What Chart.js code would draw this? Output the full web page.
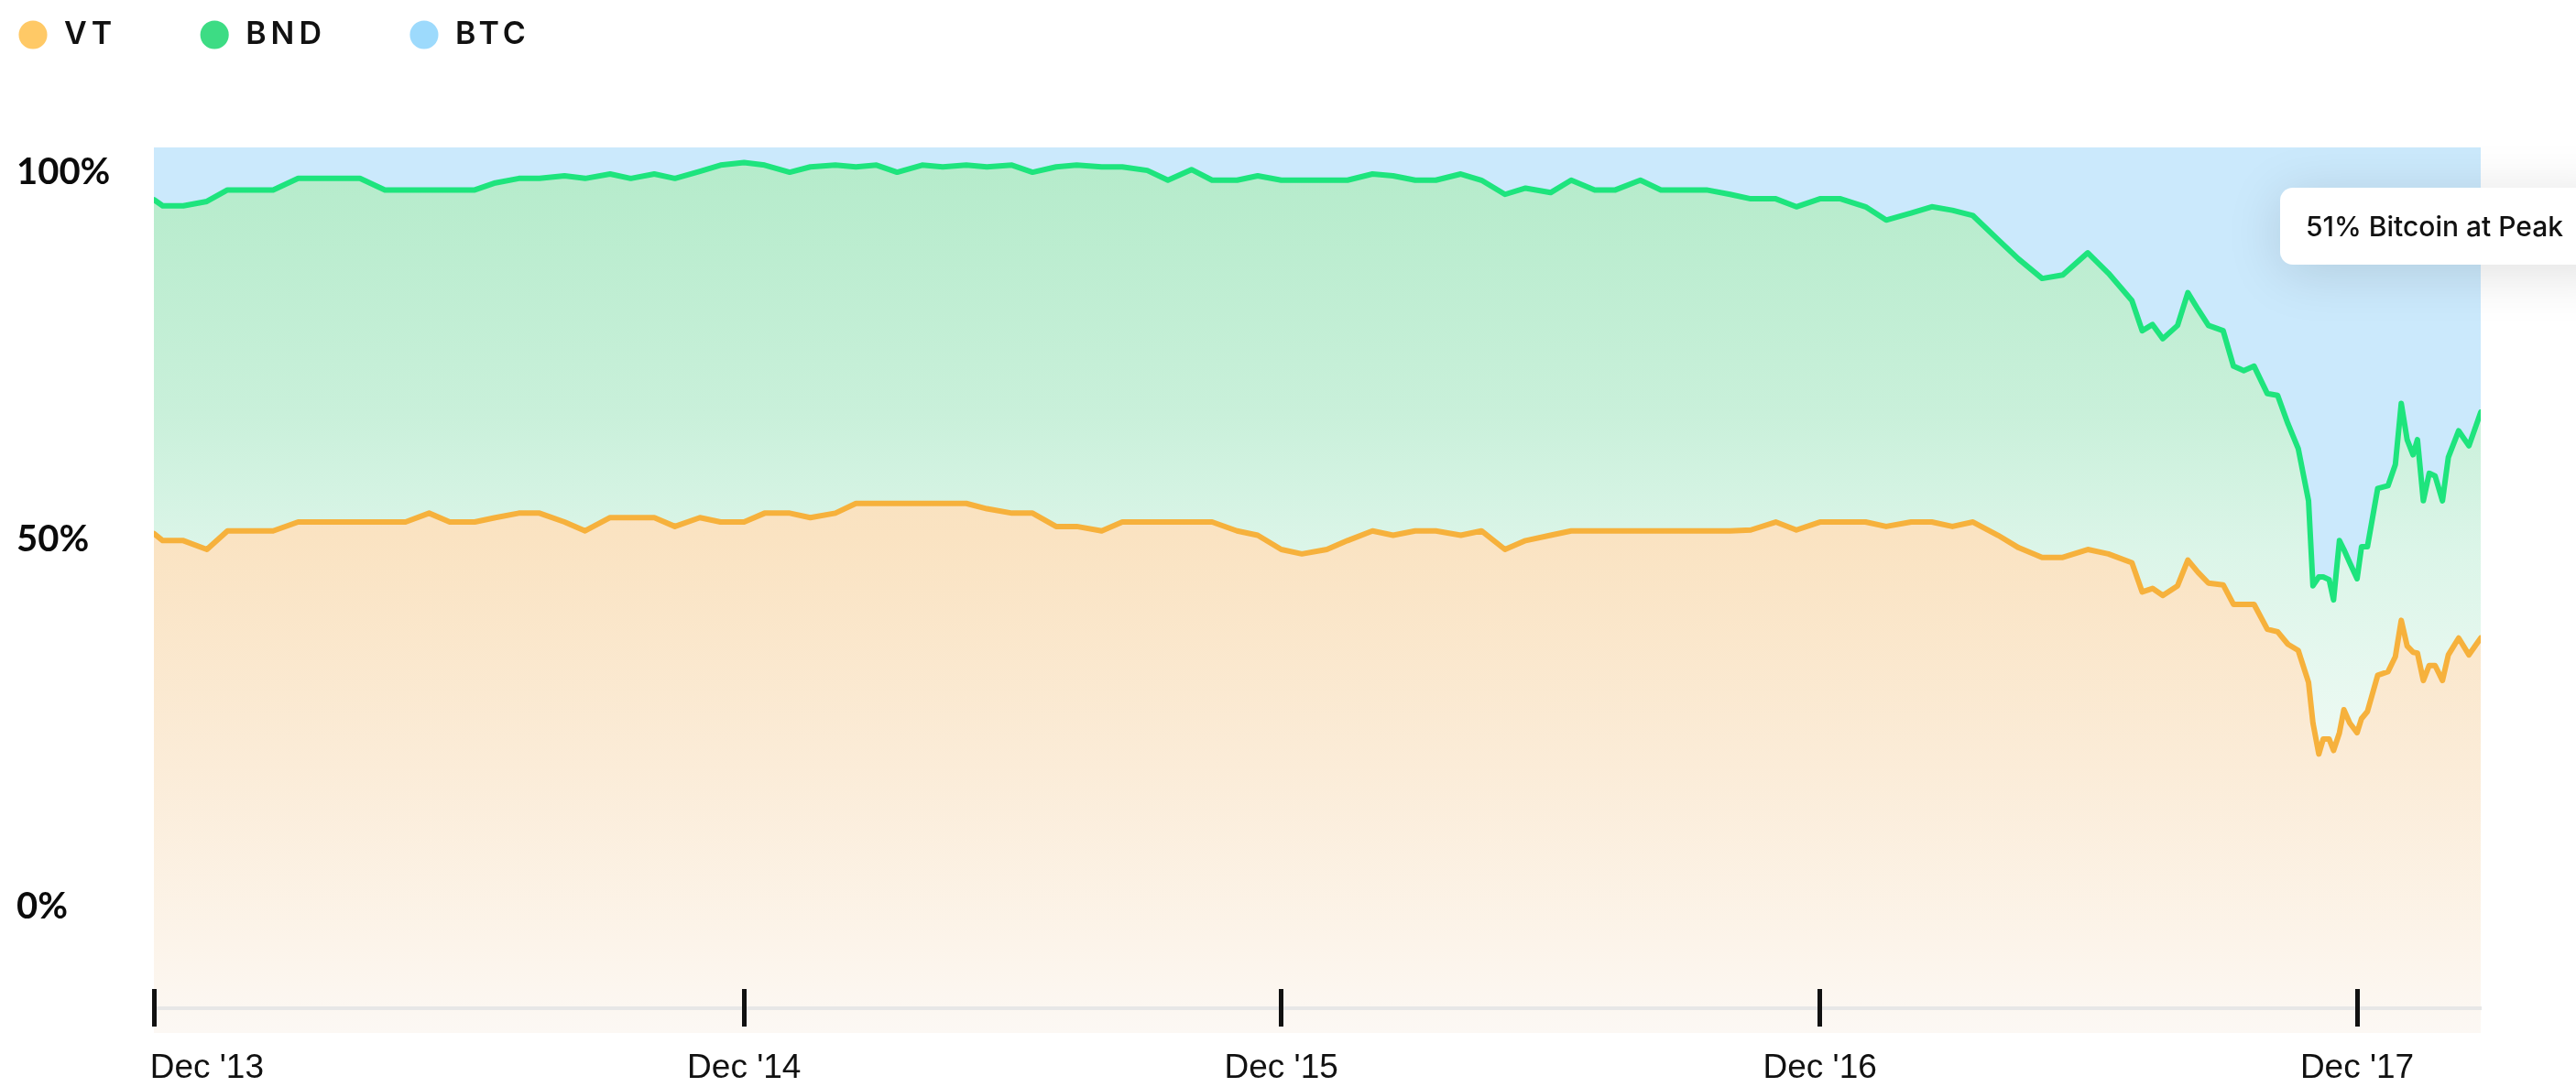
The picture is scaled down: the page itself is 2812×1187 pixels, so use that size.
<!DOCTYPE html>
<html>
<head>
<meta charset="utf-8">
<script src="https://cdn.jsdelivr.net/npm/chart.js@4.4.1/dist/chart.umd.min.js"></script>
<style>
  html, body { margin: 0; padding: 0; background: #fff; overflow: hidden; }
  #wrap { position: relative; width: 2812px; height: 1187px; overflow: hidden; }
  #peakNote {
    position: absolute; left: 2489px; top: 205px; width: 380px; height: 84px;
    box-sizing: border-box; padding-left: 28px;
    display: flex; align-items: center;
    background: #fff; border-radius: 14px;
    box-shadow: 0 8px 60px rgba(0, 0, 0, 0.13);
    font: 500 30px Inter, sans-serif; color: #111;
  }
</style>
</head>
<body>
<div id="wrap">
  <canvas id="allocChart" width="2812" height="1187"></canvas>
  <div id="peakNote">51% Bitcoin at Peak</div>
</div>
<script>
// 各資產佔比 (%)，依日期排列
const dates = [
  '2013-10-26','2013-11-01','2013-11-15','2013-12-01','2013-12-15',
  '2014-01-01','2014-01-15','2014-02-01','2014-02-15','2014-03-01','2014-03-15','2014-04-01','2014-04-15',
  '2014-05-01','2014-05-15','2014-06-01','2014-06-15','2014-07-01','2014-07-15','2014-08-01','2014-08-15',
  '2014-09-01','2014-09-15','2014-10-01','2014-10-15','2014-11-01','2014-11-15','2014-12-01','2014-12-15',
  '2015-01-01','2015-01-15','2015-02-01','2015-02-15','2015-03-01','2015-03-15','2015-04-01','2015-04-15',
  '2015-05-01','2015-05-15','2015-06-01','2015-06-15','2015-07-01','2015-07-15','2015-08-01','2015-08-15',
  '2015-09-01','2015-09-15','2015-10-01','2015-10-15','2015-11-01','2015-11-15','2015-12-01','2015-12-15',
  '2016-01-01','2016-01-15','2016-02-01','2016-02-15','2016-03-01','2016-03-15','2016-04-01','2016-04-15',
  '2016-05-01','2016-05-15','2016-06-01','2016-06-15','2016-07-01','2016-07-15','2016-08-01','2016-08-15',
  '2016-09-01','2016-09-15','2016-10-01','2016-10-15','2016-11-01','2016-11-15','2016-12-01','2016-12-15',
  '2017-01-01','2017-01-15','2017-02-01','2017-02-15','2017-03-01','2017-03-15','2017-04-01','2017-04-15',
  '2017-05-01','2017-05-15','2017-06-01','2017-06-15','2017-07-01','2017-07-08','2017-07-15','2017-07-22',
  '2017-08-01','2017-08-08','2017-08-15','2017-08-22','2017-09-01','2017-09-08','2017-09-15','2017-09-22',
  '2017-10-01','2017-10-08','2017-10-15','2017-10-22','2017-10-29','2017-11-01','2017-11-05','2017-11-08',
  '2017-11-12','2017-11-15','2017-11-19','2017-11-22','2017-11-26','2017-12-01','2017-12-04','2017-12-08',
  '2017-12-15','2017-12-22','2017-12-27','2017-12-31','2018-01-04','2018-01-08','2018-01-11','2018-01-15',
  '2018-01-19','2018-01-23','2018-01-28','2018-02-01','2018-02-08','2018-02-15','2018-02-23'
];

const vtShare = [
  56.4, 55.6, 55.6, 54.6, 56.7,
  56.7, 56.7, 57.7, 57.7, 57.7, 57.7, 57.7, 57.7,
  58.7, 57.7, 57.7, 58.2, 58.7, 58.7, 57.7, 56.7,
  58.2, 58.2, 58.2, 57.2, 58.2, 57.7, 57.7, 58.7,
  58.7, 58.2, 58.7, 59.8, 59.8, 59.8, 59.8, 59.8,
  59.8, 59.2, 58.7, 58.7, 57.2, 57.2, 56.7, 57.7,
  57.7, 57.7, 57.7, 57.7, 56.7, 56.2, 54.6, 54.1,
  54.6, 55.6, 56.7, 56.2, 56.7, 56.7, 56.2, 56.7,
  54.6, 55.6, 56.2, 56.7, 56.7, 56.7, 56.7, 56.7,
  56.7, 56.7, 56.7, 56.8, 57.7, 56.8, 57.7, 57.7,
  57.7, 57.2, 57.7, 57.7, 57.2, 57.7, 56.2, 54.8,
  53.7, 53.7, 54.6, 54.1, 53.1, 49.8, 50.2, 49.4,
  50.5, 53.4, 52.0, 50.8, 50.6, 48.4, 48.4, 48.4,
  45.6, 45.3, 43.9, 43.2, 39.6, 35.0, 31.5, 33.2,
  33.2, 31.9, 33.9, 36.5, 35.0, 33.9, 35.5, 36.3,
  40.4, 40.8, 42.5, 46.6, 43.7, 43.0, 42.9, 39.8,
  41.5, 41.5, 39.8, 42.7, 44.6, 42.7, 44.6
];

const bndShare = [
  37.7, 37.8, 37.8, 39.3, 38.5,
  38.5, 38.5, 38.8, 38.8, 38.8, 38.8, 37.5, 37.5,
  36.5, 37.5, 37.5, 37.8, 37.8, 37.8, 39.1, 39.8,
  38.8, 38.3, 38.8, 39.3, 39.1, 40.3, 40.6, 39.3,
  38.5, 39.6, 39.3, 38.0, 38.2, 37.4, 38.2, 38.0,
  38.2, 38.6, 39.3, 38.5, 40.6, 40.8, 41.1, 40.1,
  39.7, 38.6, 39.8, 38.6, 39.6, 40.6, 41.7, 42.2,
  41.7, 40.7, 40.3, 40.6, 39.6, 39.6, 40.8, 39.6,
  40.1, 39.8, 38.7, 39.6, 38.5, 38.5, 39.6, 38.5,
  38.5, 38.5, 38.0, 37.4, 36.5, 36.5, 36.5, 36.5,
  35.6, 34.6, 34.9, 35.6, 35.7, 34.6, 33.4, 32.6,
  31.5, 31.9, 33.5, 31.7, 29.6, 29.5, 29.8, 29.0,
  29.4, 30.2, 29.7, 29.1, 28.7, 26.9, 26.4, 26.9,
  26.6, 26.7, 24.9, 22.8, 20.5, 15.5, 20.0, 18.3,
  18.0, 17.0, 21.7, 18.1, 18.1, 17.4, 19.4, 18.6,
  21.1, 21.0, 21.7, 24.5, 23.3, 22.3, 24.1, 20.3,
  21.7, 21.4, 20.3, 22.3, 23.4, 23.6, 25.5
];

const btcShare = [
  5.9, 6.6, 6.6, 6.1, 4.8,
  4.8, 4.8, 3.5, 3.5, 3.5, 3.5, 4.8, 4.8,
  4.8, 4.8, 4.8, 4.0, 3.5, 3.5, 3.2, 3.5,
  3.0, 3.5, 3.0, 3.5, 2.7, 2.0, 1.7, 2.0,
  2.8, 2.2, 2.0, 2.2, 2.0, 2.8, 2.0, 2.2,
  2.0, 2.2, 2.0, 2.8, 2.2, 2.0, 2.2, 2.2,
  2.6, 3.7, 2.5, 3.7, 3.7, 3.2, 3.7, 3.7,
  3.7, 3.7, 3.0, 3.2, 3.7, 3.7, 3.0, 3.7,
  5.3, 4.6, 5.1, 3.7, 4.8, 4.8, 3.7, 4.8,
  4.8, 4.8, 5.3, 5.8, 5.8, 6.7, 5.8, 5.8,
  6.7, 8.2, 7.4, 6.7, 7.1, 7.7, 10.4, 12.6,
  14.8, 14.4, 11.9, 14.2, 17.3, 20.7, 20.0, 21.6,
  20.1, 16.4, 18.3, 20.1, 20.7, 24.7, 25.2, 24.7,
  27.8, 28.0, 31.2, 34.0, 39.9, 49.5, 48.5, 48.5,
  48.8, 51.1, 44.4, 45.4, 46.9, 48.7, 45.1, 45.1,
  38.5, 38.2, 35.8, 28.9, 33.0, 34.7, 33.0, 39.9,
  36.8, 37.1, 39.9, 35.0, 32.0, 33.7, 29.9
];

const seriesNames = ['VT', 'BND', 'BTC'];
const legendColors = ['#ffc966', '#3ddc84', '#9ddafc'];
const lineColors = ['#f6b13c', '#1ee47d', 'rgba(0,0,0,0)'];

// x 軸刻度
const xTickDates = ['2013-12-01', '2014-12-01', '2015-12-01', '2016-12-01', '2017-12-01'];
const xTickLabels = ["Dec '13", "Dec '14", "Dec '15", "Dec '16", "Dec '17"];
const xMarkDates = ['2013-10-26', '2014-12-01', '2015-12-01', '2016-12-01', '2017-12-01'];
// y 軸刻度
const yTickValues = [0, 50, 100];

// 版面位置 (不是資料)
const MARK_TOP = 4.96;      // 刻度線上端, 以 y 軸數值表示
const AXIS_LINE = 2.79;     // 灰色軸線
const LABEL_MIN = -17.21;   // 左側百分比標籤的範圍
const LABEL_MAX = 103.37;
const LEGEND_LEFT = 19;
const LEGEND_MID = 38;

const DAY = 86400000;
const t0 = Date.parse(dates[0]);
const toDay = d => Math.round((Date.parse(d) - t0) / DAY);
const days = dates.map(toDay);
const lastDay = days[days.length - 1];
const points = arr => arr.map((v, i) => ({ x: days[i], y: v }));

// 垂直漸層填色
function fadeFill(stops) {
    return function(context) {
        const chart = context.chart;
        const area = chart.chartArea;
        if (!area) return null;
        const g = chart.ctx.createLinearGradient(0, area.top, 0, area.bottom);
        stops.forEach(s => g.addColorStop(s[0], s[1]));
        return g;
    };
}
const orangeStops = [[0, '#f9dcb0'], [0.44, '#fae3c2'], [0.7, '#fbecd8'], [0.9, '#fcf4ea'], [1, '#fcf8f4']];
const greenStops = [[0, '#b4ebca'], [0.3, '#c9f0da'], [0.45, '#dbf5e8'], [0.65, '#ebf9f2'], [1, '#f9fdfb']];

// 圖例位置微調 + 字距
const legendNudge = {
    id: 'legendNudge',
    beforeDraw(chart) {
        const lg = chart.legend;
        const pad = lg.options.labels.padding;
        lg.left = LEGEND_LEFT - pad;
        lg.top = LEGEND_MID - 17 - pad;
        chart.ctx.letterSpacing = '5px';
    },
    beforeDatasetsDraw(chart) {
        chart.ctx.letterSpacing = '0px';
    }
};

const ctx = document.getElementById('allocChart');
const myChart = new Chart(ctx, {
    type: 'line',
    data: {
        datasets: [
            {
                label: seriesNames[0],
                data: points(vtShare),
                borderColor: lineColors[0],
                backgroundColor: fadeFill(orangeStops),
                borderWidth: 6,
                fill: 'origin'
            },
            {
                label: seriesNames[1],
                data: points(bndShare),
                borderColor: lineColors[1],
                backgroundColor: fadeFill(greenStops),
                borderWidth: 6,
                fill: '-1'
            },
            {
                label: seriesNames[2],
                data: points(btcShare),
                borderColor: lineColors[2],
                backgroundColor: '#cbe9fc',
                borderWidth: 0,
                fill: '-1'
            }
        ]
    },
    options: {
        responsive: false,
        animation: false,
        devicePixelRatio: 1,
        events: [],
        layout: { padding: { left: 18, right: 104, top: 27, bottom: 59 } },
        elements: {
            point: { radius: 0 },
            line: { tension: 0, borderJoinStyle: 'round', borderCapStyle: 'round' }
        },
        plugins: {
            tooltip: { enabled: false },
            legend: {
                align: 'start',
                labels: {
                    usePointStyle: true,
                    pointStyle: 'circle',
                    boxWidth: 34,
                    boxHeight: 22,
                    padding: 90,
                    color: '#111',
                    font: { family: 'Inter', size: 34, weight: '600' },
                    generateLabels: chart => Chart.defaults.plugins.legend.labels.generateLabels(chart).map((item, i) =>
                        Object.assign(item, { fillStyle: legendColors[i], strokeStyle: legendColors[i], lineWidth: 0 }))
                }
            }
        },
        scales: {
            x: {   // 只畫刻度線 (畫在軸線之上)
                type: 'linear',
                min: 0,
                max: lastDay,
                position: { y: MARK_TOP },
                border: { display: false },
                grid: { drawOnChartArea: false, drawTicks: true, tickLength: 41, tickWidth: 5, tickColor: '#111', z: 3 },
                ticks: { display: false },
                afterBuildTicks: s => { s.ticks = xMarkDates.map(d => ({ value: toDay(d) })); }
            },
            xLab: {   // 灰色軸線 + 日期文字
                type: 'linear',
                min: 0,
                max: lastDay,
                position: { y: AXIS_LINE },
                border: { display: true, color: '#e7e7e7', width: 4, z: 1 },
                grid: { display: false, drawTicks: false },
                ticks: {
                    z: 1,
                    padding: 44,
                    maxRotation: 0,
                    autoSkip: false,
                    color: '#111',
                    font: { family: 'Liberation Sans', size: 37 },
                    callback: (v, i) => xTickLabels[i]
                },
                afterBuildTicks: s => { s.ticks = xTickDates.map(d => ({ value: toDay(d) })); }
            },
            y: {   // 資料軸 (堆疊到 100%)
                display: false,
                stacked: true,
                min: 0,
                max: 100
            },
            yL: {   // 顯示用百分比標籤
                position: 'left',
                min: LABEL_MIN,
                max: LABEL_MAX,
                grid: { display: false },
                border: { display: false },
                ticks: {
                    z: 1,
                    crossAlign: 'far',
                    color: '#0b0b0b',
                    font: { family: 'Lato', size: 40, weight: '700' },
                    callback: v => v + '%'
                },
                afterBuildTicks: s => { s.ticks = yTickValues.map(v => ({ value: v })); },
                afterFit: s => { s.width = 150; }
            }
        }
    },
    plugins: [legendNudge]
});
</script>
</body>
</html>
